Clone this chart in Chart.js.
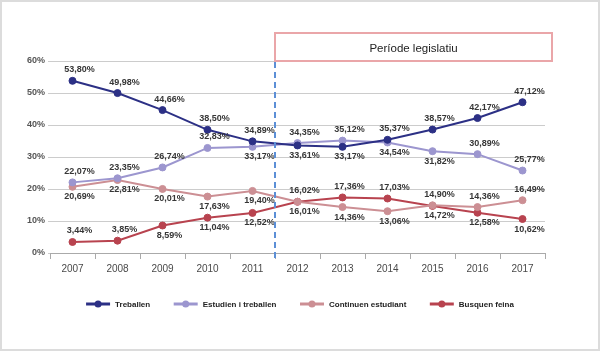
<!DOCTYPE html>
<html>
<head>
<meta charset="utf-8">
<script src="https://cdn.jsdelivr.net/npm/chart.js@4/dist/chart.umd.min.js"></script>
<style>
  html, body { margin: 0; padding: 0; background: #fff; }
  #wrap { position: relative; width: 600px; height: 352px; }
</style>
</head>
<body>
<div id="wrap"><canvas id="c" width="600" height="352"></canvas></div>
<script>
const years = ['2007','2008','2009','2010','2011','2012','2013','2014','2015','2016','2017'];
const treballen = [53.80, 49.98, 44.66, 38.50, 34.89, 33.61, 33.17, 35.37, 38.57, 42.17, 47.12];
const estudienTreballen = [22.07, 23.35, 26.74, 32.83, 33.17, 34.35, 35.12, 34.54, 31.82, 30.89, 25.77];
const continuenEstudiant = [20.69, 22.81, 20.01, 17.63, 19.40, 16.01, 14.36, 13.06, 14.90, 14.36, 16.49];
const busquenFeina = [3.44, 3.85, 8.59, 11.04, 12.52, 16.02, 17.36, 17.03, 14.72, 12.58, 10.62];
const yTicks = [0, 10, 20, 30, 40, 50, 60];
const seriesNames = ['Treballen', 'Estudien i treballen', 'Continuen estudiant', 'Busquen feina'];
const periodLabel = 'Període legislatiu';

const colors = ['#2c3085', '#9c96cf', '#cc8f94', '#b8434f'];
// label placement: a = above, b = below
const labelPlacement = [
  'aaaaabbaaaa',
  'aaaabaabbaa',
  'bbbbbbbbaaa',
  'aabbbaaabbb'
];

const fmt = v => v.toFixed(2).replace('.', ',') + '%';

const bgPlugin = {
  id: 'bg',
  beforeDraw(chart) {
    const ctx = chart.ctx;
    ctx.save();
    ctx.fillStyle = '#fff';
    ctx.fillRect(0, 0, chart.width, chart.height);
    ctx.strokeStyle = '#dcdcdc';
    ctx.lineWidth = 2;
    ctx.strokeRect(1, 1, chart.width - 2, chart.height - 3);
    ctx.restore();
  }
};

const decoPlugin = {
  id: 'deco',
  afterDraw(chart) {
    const ctx = chart.ctx;
    const xs = chart.scales.x;
    const area = chart.chartArea;
    const xd = (xs.getPixelForValue(4) + xs.getPixelForValue(5)) / 2;
    ctx.save();
    // period box
    const bx = xd, by = area.top - 28, bw = area.right + 7 - xd, bh = 28;
    ctx.strokeStyle = '#eaa6a9';
    ctx.lineWidth = 2;
    ctx.strokeRect(bx, by, bw, bh);
    ctx.fillStyle = '#222';
    ctx.font = '11.5px "Liberation Sans", Arial, sans-serif';
    ctx.textAlign = 'center';
    ctx.textBaseline = 'middle';
    ctx.fillText(periodLabel, bx + bw / 2, by + bh / 2 + 2);
    // dashed line
    ctx.strokeStyle = '#5c8fd6';
    ctx.lineWidth = 2;
    ctx.setLineDash([6, 4]);
    ctx.beginPath();
    ctx.moveTo(xd, area.top + 1);
    ctx.lineTo(xd, area.bottom + 6);
    ctx.stroke();
    ctx.setLineDash([]);
    // legend
    ctx.font = 'bold 8px "Liberation Sans", Arial, sans-serif';
    const lineLen = 24, gapTxt = 5, gapItem = 23.5;
    const widths = seriesNames.map(n => ctx.measureText(n).width);
    const total = widths.reduce((s, w) => s + lineLen + gapTxt + w, 0) + gapItem * (seriesNames.length - 1);
    let x = chart.width / 2 - total / 2;
    const ly = 304;
    seriesNames.forEach((n, i) => {
      ctx.strokeStyle = colors[i];
      ctx.lineWidth = 3;
      ctx.beginPath();
      ctx.moveTo(x, ly);
      ctx.lineTo(x + lineLen, ly);
      ctx.stroke();
      ctx.fillStyle = colors[i];
      ctx.beginPath();
      ctx.arc(x + lineLen / 2, ly, 3.5, 0, Math.PI * 2);
      ctx.fill();
      ctx.fillStyle = '#222';
      ctx.textAlign = 'left';
      ctx.textBaseline = 'middle';
      ctx.fillText(n, x + lineLen + gapTxt, ly + 0.5);
      x += lineLen + gapTxt + widths[i] + gapItem;
    });
    ctx.restore();
  },
  afterDatasetsDraw(chart) {
    const ctx = chart.ctx;
    ctx.save();
    ctx.font = 'bold 9px "Liberation Sans", Arial, sans-serif';
    ctx.fillStyle = '#363636';
    ctx.textAlign = 'center';
    ctx.textBaseline = 'middle';
    chart.data.datasets.forEach((ds, di) => {
      const meta = chart.getDatasetMeta(di);
      meta.data.forEach((pt, i) => {
        const above = labelPlacement[di][i] === 'a';
        ctx.fillText(fmt(ds.data[i]), pt.x + 7, pt.y + (above ? -11 : 10));
      });
    });
    ctx.restore();
  }
};

const seriesData = [treballen, estudienTreballen, continuenEstudiant, busquenFeina];

new Chart(document.getElementById('c'), {
  type: 'line',
  data: {
    labels: years,
    datasets: seriesData.map((d, i) => ({
      label: seriesNames[i],
      data: d,
      borderColor: colors[i],
      backgroundColor: colors[i],
      pointBackgroundColor: colors[i],
      pointBorderColor: colors[i],
      borderWidth: 2,
      pointRadius: 3.5,
      pointBorderWidth: 1,
      tension: 0,
      fill: false
    }))
  },
  options: {
    responsive: false,
    animation: false,
    devicePixelRatio: 1,
    layout: { padding: { left: 0, top: 61, right: 55, bottom: 69 } },
    plugins: {
      legend: { display: false },
      tooltip: { enabled: false },
      title: { display: false }
    },
    scales: {
      x: {
        type: 'category',
        offset: true,
        afterFit(s) { s.height = 30; },
        grid: { offset: true, drawOnChartArea: false, tickLength: 6, color: '#aaaaaa', lineWidth: 1 },
        border: { display: true, color: '#aaaaaa', width: 1 },
        ticks: { color: '#4a4a4a', font: { family: '"Liberation Sans", Arial, sans-serif', size: 10 }, padding: 4, maxRotation: 0 }
      },
      y: {
        min: 0,
        max: 60,
        afterFit(s) { s.width = 50; },
        afterBuildTicks(s) { s.ticks = yTicks.map(v => ({ value: v })); },
        grid: { color: '#cccccc', lineWidth: 1, tickLength: 2 },
        border: { display: false },
        ticks: {
          color: '#555',
          padding: 3,
          font: { family: '"Liberation Sans", Arial, sans-serif', size: 9, weight: 'bold' },
          callback: v => v + '%'
        }
      }
    }
  },
  plugins: [bgPlugin, decoPlugin]
});
</script>
</body>
</html>
